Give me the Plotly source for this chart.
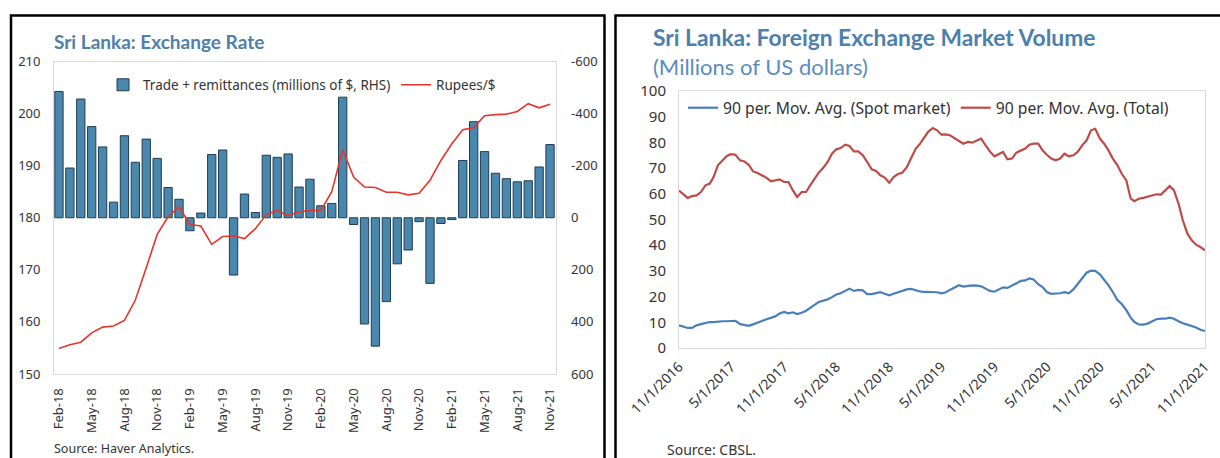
import plotly.graph_objects as go

# ---------------- Left chart data ----------------
months = ["Feb-18", "Mar-18", "Apr-18", "May-18", "Jun-18", "Jul-18", "Aug-18", "Sep-18", "Oct-18", "Nov-18", "Dec-18",
          "Jan-19", "Feb-19", "Mar-19", "Apr-19", "May-19", "Jun-19", "Jul-19", "Aug-19", "Sep-19", "Oct-19", "Nov-19", "Dec-19",
          "Jan-20", "Feb-20", "Mar-20", "Apr-20", "May-20", "Jun-20", "Jul-20", "Aug-20", "Sep-20", "Oct-20", "Nov-20", "Dec-20",
          "Jan-21", "Feb-21", "Mar-21", "Apr-21", "May-21", "Jun-21", "Jul-21", "Aug-21", "Sep-21", "Oct-21", "Nov-21"]
month_ticks = months[::3]

trade_remit = [-485, -191, -456, -350, -272, -60, -315, -213, -302, -228, -116, -71, 50, -18, -243, -260, 220, -91,
               -20, -240, -232, -245, -118, -148, -46, -55, -463, 26, 408, 493, 322, 177, 124, 15, 252, 22, 7, -220,
               -369, -254, -171, -150, -138, -142, -195, -281]

rupees_per_usd = [154.9, 155.6, 156.1, 157.9, 159.0, 159.2, 160.3, 164.2, 170.4, 176.8, 180.2, 182.1, 178.7, 178.4,
                  174.9, 176.4, 176.5, 176.0, 177.9, 180.6, 181.4, 180.4, 181.1, 181.4, 181.4, 185.0, 193.1, 187.8,
                  185.9, 185.8, 184.9, 184.9, 184.4, 184.7, 187.2, 191.0, 194.2, 196.9, 197.3, 199.6, 199.8, 199.9,
                  200.4, 201.9, 201.1, 201.8]

left_tickvals = [150, 160, 170, 180, 190, 200, 210]
right_tickvals = [-600, -400, -200, 0, 200, 400, 600]
right_ticktext = ["-600", "-400", "-200", "0", "200", "400", "600"]

# ---------------- Right chart data ----------------
dates = []
for yr in range(2016, 2022):
    for mo in range(1, 13):
        for dy in (1, 16):
            d = f"{yr}-{mo:02d}-{dy:02d}"
            if "2016-11-01" <= d <= "2021-11-01":
                dates.append(d)

total_ma = [61.3, 59.7, 58.4, 59.1, 59.4, 60.7, 63.3, 64.0, 66.5, 71.1, 73.0, 74.7, 75.4, 75.2, 73.0, 72.6, 71.3,
            68.7, 68.1, 67.2, 66.2, 64.9, 65.2, 65.6, 64.6, 64.6, 61.4, 58.8, 60.7, 60.7, 63.6, 65.9, 68.2, 70.0,
            72.4, 75.6, 77.3, 77.8, 79.1, 78.6, 76.5,
            76.5, 75.0, 72.4, 69.5, 68.9, 67.2, 66.3, 64.3, 66.5, 67.7, 68.2, 70.4, 73.9, 77.6, 79.5, 81.5, 84.1,
            85.6, 84.7, 83.0, 83.1, 82.7, 81.7, 80.8, 79.5, 80.2, 79.9, 80.7, 81.5, 78.9, 76.5, 74.6, 75.6, 76.3,
            73.4, 73.7, 76.0, 76.8, 77.6, 79.1,
            79.5, 79.5, 76.9, 75.2, 73.7, 73.0, 73.7, 75.6, 74.6, 75.0, 76.3, 78.9, 80.8, 84.7, 85.3, 81.5, 79.5,
            76.9, 73.7, 71.1, 67.8, 65.2, 58.1, 57.1, 58.1, 58.4, 58.8, 59.4, 59.8, 59.7, 61.3, 63.0, 61.4, 56.2,
            49.7, 44.5, 41.9, 40.2, 39.3, 38.0]

spot_ma = [8.8, 8.2, 7.8, 7.8, 8.8, 9.3, 9.8, 10.1, 10.1, 10.3, 10.4, 10.4, 10.5, 10.6, 9.3, 8.8, 8.6, 9.2, 10.0,
           10.5, 11.2, 11.7, 12.3, 13.4, 14.0, 13.5, 13.9, 13.2, 13.7, 14.5, 15.6, 16.9, 17.9, 18.4, 18.9, 19.8,
           20.8, 21.3, 22.1, 23.1, 22.2,
           22.6, 22.4, 21.0, 21.0, 21.5, 21.7, 21.1, 20.5, 21.1, 21.7, 22.2, 22.8, 23.0, 22.4, 22.0, 21.8, 21.8,
           21.8, 21.7, 21.3, 21.7, 22.7, 23.7, 24.4, 23.9, 24.1, 24.4, 24.3, 24.0, 23.1, 22.2, 21.9, 22.7, 23.6,
           23.4, 24.4, 25.3, 26.1, 26.3, 27.1,
           26.7, 24.8, 23.7, 21.8, 21.1, 21.1, 21.3, 21.7, 21.3, 22.8, 25.0, 27.0, 29.3, 30.1, 30.0, 28.7, 26.6,
           24.4, 21.8, 18.7, 17.1, 14.7, 11.8, 10.1, 9.2, 9.1, 9.5, 10.5, 11.2, 11.4, 11.4, 11.8, 11.4, 10.4, 9.6,
           9.1, 8.7, 8.0, 7.1, 6.6]

date_tickvals = ["2016-11-01", "2017-05-01", "2017-11-01", "2018-05-01", "2018-11-01", "2019-05-01",
                 "2019-11-01", "2020-05-01", "2020-11-01", "2021-05-01", "2021-11-01"]
date_ticktext = ["11/1/2016", "5/1/2017", "11/1/2017", "5/1/2018", "11/1/2018", "5/1/2019",
                 "11/1/2019", "5/1/2020", "11/1/2020", "5/1/2021", "11/1/2021"]
vol_tickvals = [0, 10, 20, 30, 40, 50, 60, 70, 80, 90, 100]

# ---------------- Styling ----------------
W, H = 1220, 458
TICK_FONT = "Noto Sans, Open Sans, sans-serif"
TITLE_FONT = "Lato, Noto Sans, sans-serif"
TICK_COLOR = "#333333"
BORDER = "#d9d9d9"
TITLE_BLUE = "#4d80ab"

def px(x):
    return x / W

def py(y):
    return 1 - y / H

fig = go.Figure()

fig.add_trace(go.Bar(
    x=months, y=trade_remit, name="Trade + remittances (millions of $, RHS)",
    xaxis="x", yaxis="y",
    marker=dict(color="#4a87ad", line=dict(color="#1f3d52", width=1)),
    legend="legend",
))
fig.add_trace(go.Scatter(
    x=months, y=rupees_per_usd, name="Rupees/$", mode="lines",
    xaxis="x", yaxis="y2",
    line=dict(color="#e8352b", width=1.6),
    legend="legend",
))
fig.add_trace(go.Scatter(
    x=dates, y=spot_ma, name="90 per. Mov. Avg. (Spot market)", mode="lines",
    xaxis="x2", yaxis="y3",
    line=dict(color="#4a7ebb", width=2.2),
    legend="legend2",
))
fig.add_trace(go.Scatter(
    x=dates, y=total_ma, name="90 per. Mov. Avg. (Total)", mode="lines",
    xaxis="x2", yaxis="y3",
    line=dict(color="#be4b48", width=2.2),
    legend="legend2",
))

left_dom_x = [px(53.5), px(555.5)]
left_dom_y = [py(374), py(61.5)]
right_dom_x = [px(679), px(1205)]
right_dom_y = [py(348), py(91)]

fig.update_layout(
    template="none",
    width=W, height=H, autosize=False,
    margin=dict(l=0, r=0, t=0, b=0, pad=0),
    paper_bgcolor="white", plot_bgcolor="white",
    bargap=0.24,
    font=dict(family=TICK_FONT, color=TICK_COLOR, size=13),
    xaxis=dict(
        domain=left_dom_x, anchor="y", type="category", automargin=False,
        range=[-0.5, len(months) - 0.5],
        tickmode="array", tickvals=month_ticks, ticktext=month_ticks,
        tickangle=-90, tickfont=dict(size=13, color=TICK_COLOR),
        ticks="", showgrid=False, zeroline=False,
        showline=True, mirror=True, linecolor=BORDER, linewidth=1,
        ticklabelstandoff=8,
    ),
    yaxis=dict(
        domain=left_dom_y, anchor="x", side="right", automargin=False,
        range=[600, -600], tickmode="array",
        tickvals=right_tickvals, ticktext=right_ticktext,
        tickfont=dict(size=13, color=TICK_COLOR),
        ticks="", showgrid=False, zeroline=False,
        showline=True, mirror=True, linecolor=BORDER, linewidth=1,
        ticklabelstandoff=12,
    ),
    yaxis2=dict(
        overlaying="y", anchor="x", side="left", automargin=False,
        range=[150, 210], tickmode="array", tickvals=left_tickvals,
        tickfont=dict(size=13, color=TICK_COLOR),
        ticks="", showgrid=False, zeroline=False, showline=False,
        ticklabelstandoff=12,
    ),
    xaxis2=dict(
        domain=right_dom_x, anchor="y3", type="date", automargin=False,
        range=["2016-11-01", "2021-11-01"],
        tickmode="array", tickvals=date_tickvals, ticktext=date_ticktext,
        tickangle=-45, tickfont=dict(size=14, color=TICK_COLOR),
        ticks="", showgrid=False, zeroline=False,
        showline=True, mirror=True, linecolor=BORDER, linewidth=1,
        ticklabelstandoff=4,
    ),
    yaxis3=dict(
        domain=right_dom_y, anchor="x2", automargin=False,
        range=[0, 100], tickmode="array", tickvals=vol_tickvals,
        tickfont=dict(size=15, color=TICK_COLOR),
        ticks="", showgrid=False, zeroline=False,
        showline=True, mirror=True, linecolor=BORDER, linewidth=1,
        ticklabelstandoff=9,
    ),
    legend=dict(
        orientation="h", x=px(103), y=py(85), xanchor="left", yanchor="middle",
        bgcolor="rgba(0,0,0,0)", font=dict(size=13.5, color=TICK_COLOR, family=TICK_FONT),
        itemwidth=30, tracegroupgap=0, entrywidth=248, entrywidthmode="pixels",
    ),
    legend2=dict(
        orientation="h", x=px(683), y=py(108), xanchor="left", yanchor="middle",
        bgcolor="rgba(0,0,0,0)", font=dict(size=15.7, color=TICK_COLOR, family=TICK_FONT),
        itemwidth=30,
    ),
    showlegend=True,
)

annotations = [
    dict(text="<b>Sri Lanka: Exchange Rate</b>", x=px(52), y=py(41), xref="paper", yref="paper",
         xanchor="left", yanchor="middle", showarrow=False,
         font=dict(family=TITLE_FONT, size=19, color=TITLE_BLUE)),
    dict(text="Source: Haver Analytics.", x=px(52), y=py(448), xref="paper", yref="paper",
         xanchor="left", yanchor="middle", showarrow=False,
         font=dict(family=TICK_FONT, size=12.5, color=TICK_COLOR)),
    dict(text="<b>Sri Lanka: Foreign Exchange Market Volume</b>", x=px(651), y=py(37), xref="paper", yref="paper",
         xanchor="left", yanchor="middle", showarrow=False,
         font=dict(family=TITLE_FONT, size=22.8, color=TITLE_BLUE)),
    dict(text="(Millions of US dollars)", x=px(651), y=py(66), xref="paper", yref="paper",
         xanchor="left", yanchor="middle", showarrow=False,
         font=dict(family=TITLE_FONT, size=22, color="#5a8cc0")),
    dict(text="Source: CBSL.", x=px(665), y=py(449), xref="paper", yref="paper",
         xanchor="left", yanchor="middle", showarrow=False,
         font=dict(family=TICK_FONT, size=14, color=TICK_COLOR)),
]
fig.update_layout(annotations=annotations)

shapes = [
    dict(type="rect", xref="paper", yref="paper", x0=px(11), x1=px(604.5), y0=-0.1, y1=py(15.5),
         line=dict(color="black", width=2.5), fillcolor="rgba(0,0,0,0)"),
    dict(type="rect", xref="paper", yref="paper", x0=px(615.5), x1=1.1, y0=-0.1, y1=py(15.5),
         line=dict(color="black", width=2.5), fillcolor="rgba(0,0,0,0)"),
]
fig.update_layout(shapes=shapes)

fig.write_html(
    "out.html",
    config={"displayModeBar": False},
    post_script="document.body.style.margin='0';document.body.style.overflow='hidden';",
)
